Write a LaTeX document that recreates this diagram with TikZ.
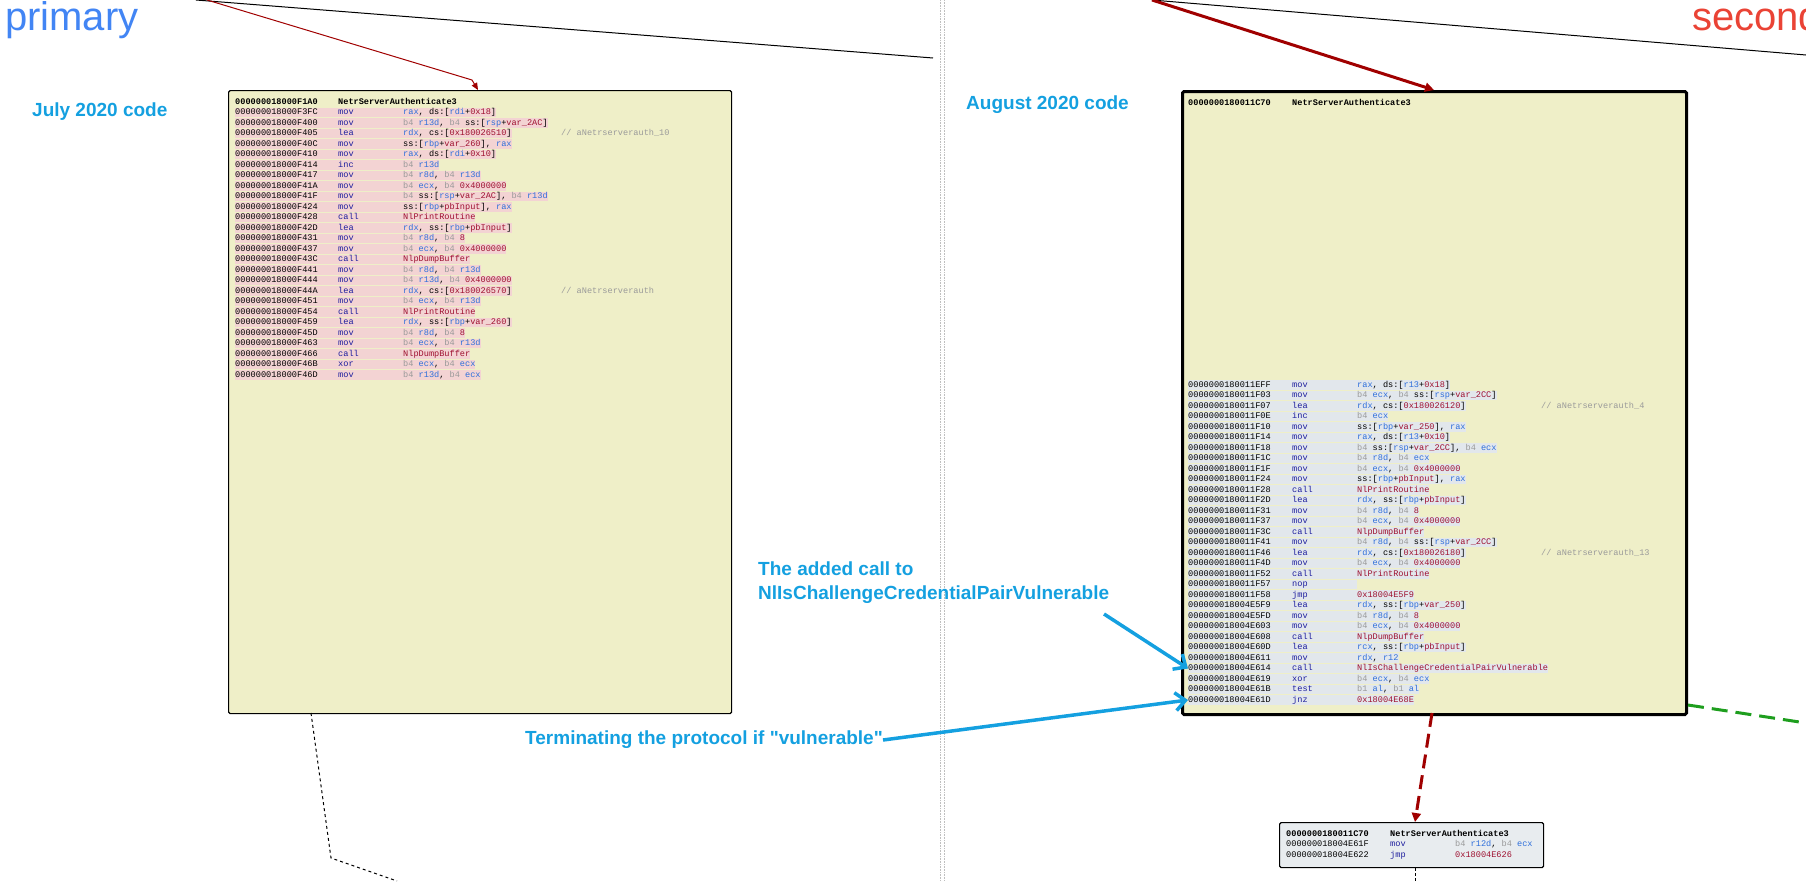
\documentclass[tikz,border=0pt]{standalone}
\usepackage{fontspec}
\setmainfont{Liberation Sans}
\newfontfamily\plainfont{Liberation Sans}
\newfontfamily\codefont{Liberation Mono}
\usetikzlibrary{arrows.meta}
\definecolor{boxyellow}{HTML}{EFEFC8}
\definecolor{hlpink}{HTML}{F3D3D3}
\definecolor{hlgray}{HTML}{E2E7EC}
\definecolor{blockgray}{HTML}{E8ECEF}
\definecolor{mnblue}{HTML}{1E1E9E}
\definecolor{regblue}{HTML}{2F6FDB}
\definecolor{numred}{HTML}{9E1030}
\definecolor{sizegray}{HTML}{9A9A9A}
\definecolor{notecyan}{HTML}{14A0E0}
\definecolor{gblue}{HTML}{4285F4}
\definecolor{gred}{HTML}{EA4335}
\definecolor{darkred}{HTML}{A00000}
\definecolor{edgegreen}{HTML}{1E9E1E}
\newcommand\rg[1]{\textcolor{regblue}{#1}}
\newcommand\nm[1]{\textcolor{numred}{#1}}
\newcommand\sz[1]{\textcolor{sizegray}{#1}}
% one disassembly line: highlight colour, address, mnemonic, operands
\newcommand\codeL[4]{%
  \pgfmathtruncatemacro\lnum{\lnum+1}%
  \node[codeline, fill=#1] (\pre\lnum) at (\xa,\ly)
    {\makebox[\cola][l]{#2}\makebox[\colb][l]{\textcolor{mnblue}{#3}}#4};%
  \pgfmathparse{\ly+10.5}\xdef\ly{\pgfmathresult}}
\newcommand\cmt[1]{\node[codeline, text=sizegray, anchor=west] (\pre c\lnum) at (\xc,\pgfmathresult-10.5) {#1};}
\tikzset{
  codeline/.style={anchor=west, inner sep=0pt, font=\codefont\fontsize{8.6}{10}\selectfont,
    text height=7.3pt, text depth=2.4pt},
  codehead/.style={codeline, font=\codefont\bfseries\fontsize{8.6}{10}\selectfont},
  funcbox/.style={draw=black, fill=boxyellow, anchor=north west, rounded corners=1.5pt, inner sep=0pt},
  note/.style={text=notecyan, font=\plainfont\bfseries\fontsize{19}{24}\selectfont, align=left, inner sep=0pt},
  notearrow/.style={notecyan, line width=3.5pt, -{Straight Barb[length=10pt,width=18pt]}},
  pname/.style={font=\fontsize{40}{42}\selectfont, inner sep=0pt, anchor=base west}
}
\begin{document}
\begin{tikzpicture}[x=1pt,y=-1pt]
\useasboundingbox (0,0) rectangle (1806,881);
% separator between the two panes
\draw[gray!50, densely dotted, line width=0.6pt] (940,0) -- (940,881);
\draw[gray!50, densely dotted, line width=0.6pt] (944,0) -- (944,881);
\node[pname, text=gblue] (primary) at (5,30) {primary};
\node[pname, text=gred] (secondary) at (1692,30) {second};
\node[note, anchor=west] (july) at (32,112) {July 2020 code};
\node[note, anchor=west] (august) at (966,105) {August 2020 code};
% the boxes
\node[funcbox, minimum width=503pt, minimum height=623pt, line width=1.2pt] (oldbox) at (228,90) {};
\node[funcbox, minimum width=504pt, minimum height=623pt, line width=3pt] (newbox) at (1181,90) {};
\node[funcbox, fill=blockgray, minimum width=264pt, minimum height=45pt, line width=1.2pt] (block) at (1279,822) {};
% incoming edges
\coordinate (oldtop) at (196,0);
\coordinate (newtop) at (1152,0);
\coordinate (oldin) at (478,90);
\coordinate (newin) at (1434,90);
\coordinate (crossL) at (933,58);
\coordinate (crossR) at (1806,55);
\draw[black, line width=1pt] (oldtop) -- (crossL);
\draw[black, line width=1pt] (newtop) -- (crossR);
\draw[darkred, line width=1pt, -{Triangle[length=7pt,width=6pt]}] (oldtop) ++(11,0) -- (472,80) -- (oldin);
\draw[darkred, line width=3pt, -{Triangle[length=9pt,width=9pt]}] (newtop) -- (newin);
% outgoing edges
\coordinate (oldout) at (311,713);
\coordinate (oldbend) at (331,858);
\coordinate (oldend) at (397,881);
\draw[black, dashed, line width=1pt] (oldout) -- (oldbend) -- (oldend);
\coordinate (newout) at (1432,713);
\draw[darkred, line width=3pt, dash pattern=on 14pt off 7pt, -{Triangle[length=9pt,width=9pt]}] (newout) -- (block.north -| 1415,0);
\coordinate (greenend) at (1806,723);
\draw[edgegreen, line width=3pt, dash pattern=on 16pt off 8pt] (newbox.north east |- 0,705) -- (greenend);
\coordinate (blockend) at (1415,881);
\draw[black, densely dashed, line width=1pt] (block.south -| 1415,0) -- (blockend);
% July code
\node[codehead] (ohead) at (235,102) {\makebox[103pt][l]{000000018000F1A0}NetrServerAuthenticate3};
\def\pre{o}\def\lnum{0}\def\xa{235}\def\xc{561}\def\cola{103pt}\def\colb{65pt}
\xdef\ly{112.45}
\codeL{hlpink}{000000018000F3FC}{mov}{\rg{rax}, ds:[\rg{rdi}+\nm{0x18}]}
\codeL{hlpink}{000000018000F400}{mov}{\sz{b4} \rg{r13d}, \sz{b4} ss:[\rg{rsp}+\nm{var\_2AC}]}
\codeL{hlpink}{000000018000F405}{lea}{\rg{rdx}, cs:[\nm{0x180026510}]}\cmt{// aNetrserverauth\_10}
\codeL{hlpink}{000000018000F40C}{mov}{ss:[\rg{rbp}+\nm{var\_260}], \rg{rax}}
\codeL{hlpink}{000000018000F410}{mov}{\rg{rax}, ds:[\rg{rdi}+\nm{0x10}]}
\codeL{hlpink}{000000018000F414}{inc}{\sz{b4} \rg{r13d}}
\codeL{hlpink}{000000018000F417}{mov}{\sz{b4} \rg{r8d}, \sz{b4} \rg{r13d}}
\codeL{hlpink}{000000018000F41A}{mov}{\sz{b4} \rg{ecx}, \sz{b4} \nm{0x4000000}}
\codeL{hlpink}{000000018000F41F}{mov}{\sz{b4} ss:[\rg{rsp}+\nm{var\_2AC}], \sz{b4} \rg{r13d}}
\codeL{hlpink}{000000018000F424}{mov}{ss:[\rg{rbp}+\nm{pbInput}], \rg{rax}}
\codeL{hlpink}{000000018000F428}{call}{\nm{NlPrintRoutine}}
\codeL{hlpink}{000000018000F42D}{lea}{\rg{rdx}, ss:[\rg{rbp}+\nm{pbInput}]}
\codeL{hlpink}{000000018000F431}{mov}{\sz{b4} \rg{r8d}, \sz{b4} \nm{8}}
\codeL{hlpink}{000000018000F437}{mov}{\sz{b4} \rg{ecx}, \sz{b4} \nm{0x4000000}}
\codeL{hlpink}{000000018000F43C}{call}{\nm{NlpDumpBuffer}}
\codeL{hlpink}{000000018000F441}{mov}{\sz{b4} \rg{r8d}, \sz{b4} \rg{r13d}}
\codeL{hlpink}{000000018000F444}{mov}{\sz{b4} \rg{r13d}, \sz{b4} \nm{0x4000000}}
\codeL{hlpink}{000000018000F44A}{lea}{\rg{rdx}, cs:[\nm{0x180026570}]}\cmt{// aNetrserverauth}
\codeL{hlpink}{000000018000F451}{mov}{\sz{b4} \rg{ecx}, \sz{b4} \rg{r13d}}
\codeL{hlpink}{000000018000F454}{call}{\nm{NlPrintRoutine}}
\codeL{hlpink}{000000018000F459}{lea}{\rg{rdx}, ss:[\rg{rbp}+\nm{var\_260}]}
\codeL{hlpink}{000000018000F45D}{mov}{\sz{b4} \rg{r8d}, \sz{b4} \nm{8}}
\codeL{hlpink}{000000018000F463}{mov}{\sz{b4} \rg{ecx}, \sz{b4} \rg{r13d}}
\codeL{hlpink}{000000018000F466}{call}{\nm{NlpDumpBuffer}}
\codeL{hlpink}{000000018000F46B}{xor}{\sz{b4} \rg{ecx}, \sz{b4} \rg{ecx}}
\codeL{hlpink}{000000018000F46D}{mov}{\sz{b4} \rg{r13d}, \sz{b4} \rg{ecx}}
% August code
\node[codehead] (nhead) at (1188,103) {\makebox[104pt][l]{0000000180011C70}NetrServerAuthenticate3};
\def\pre{n}\def\lnum{0}\def\xa{1188}\def\xc{1541}\def\cola{104pt}\def\colb{65pt}
\xdef\ly{385}
\codeL{hlgray}{0000000180011EFF}{mov}{\rg{rax}, ds:[\rg{r13}+\nm{0x18}]}
\codeL{hlgray}{0000000180011F03}{mov}{\sz{b4} \rg{ecx}, \sz{b4} ss:[\rg{rsp}+\nm{var\_2CC}]}
\codeL{hlgray}{0000000180011F07}{lea}{\rg{rdx}, cs:[\nm{0x180026120}]}\cmt{// aNetrserverauth\_4}
\codeL{hlgray}{0000000180011F0E}{inc}{\sz{b4} \rg{ecx}}
\codeL{hlgray}{0000000180011F10}{mov}{ss:[\rg{rbp}+\nm{var\_250}], \rg{rax}}
\codeL{hlgray}{0000000180011F14}{mov}{\rg{rax}, ds:[\rg{r13}+\nm{0x10}]}
\codeL{hlgray}{0000000180011F18}{mov}{\sz{b4} ss:[\rg{rsp}+\nm{var\_2CC}], \sz{b4} \rg{ecx}}
\codeL{hlgray}{0000000180011F1C}{mov}{\sz{b4} \rg{r8d}, \sz{b4} \rg{ecx}}
\codeL{hlgray}{0000000180011F1F}{mov}{\sz{b4} \rg{ecx}, \sz{b4} \nm{0x4000000}}
\codeL{hlgray}{0000000180011F24}{mov}{ss:[\rg{rbp}+\nm{pbInput}], \rg{rax}}
\codeL{hlgray}{0000000180011F28}{call}{\nm{NlPrintRoutine}}
\codeL{hlgray}{0000000180011F2D}{lea}{\rg{rdx}, ss:[\rg{rbp}+\nm{pbInput}]}
\codeL{hlgray}{0000000180011F31}{mov}{\sz{b4} \rg{r8d}, \sz{b4} \nm{8}}
\codeL{hlgray}{0000000180011F37}{mov}{\sz{b4} \rg{ecx}, \sz{b4} \nm{0x4000000}}
\codeL{hlgray}{0000000180011F3C}{call}{\nm{NlpDumpBuffer}}
\codeL{hlgray}{0000000180011F41}{mov}{\sz{b4} \rg{r8d}, \sz{b4} ss:[\rg{rsp}+\nm{var\_2CC}]}
\codeL{hlgray}{0000000180011F46}{lea}{\rg{rdx}, cs:[\nm{0x180026180}]}\cmt{// aNetrserverauth\_13}
\codeL{hlgray}{0000000180011F4D}{mov}{\sz{b4} \rg{ecx}, \sz{b4} \nm{0x4000000}}
\codeL{hlgray}{0000000180011F52}{call}{\nm{NlPrintRoutine}}
\codeL{hlgray}{0000000180011F57}{nop}{}
\codeL{hlgray}{0000000180011F58}{jmp}{\nm{0x18004E5F9}}
\codeL{hlgray}{000000018004E5F9}{lea}{\rg{rdx}, ss:[\rg{rbp}+\nm{var\_250}]}
\codeL{hlgray}{000000018004E5FD}{mov}{\sz{b4} \rg{r8d}, \sz{b4} \nm{8}}
\codeL{hlgray}{000000018004E603}{mov}{\sz{b4} \rg{ecx}, \sz{b4} \nm{0x4000000}}
\codeL{hlgray}{000000018004E608}{call}{\nm{NlpDumpBuffer}}
\codeL{hlgray}{000000018004E60D}{lea}{\rg{rcx}, ss:[\rg{rbp}+\nm{pbInput}]}
\codeL{hlgray}{000000018004E611}{mov}{\rg{rdx}, \rg{r12}}
\codeL{hlgray}{000000018004E614}{call}{\nm{NlIsChallengeCredentialPairVulnerable}}
\codeL{hlgray}{000000018004E619}{xor}{\sz{b4} \rg{ecx}, \sz{b4} \rg{ecx}}
\codeL{hlgray}{000000018004E61B}{test}{\sz{b1} \rg{al}, \sz{b1} \rg{al}}
\codeL{hlgray}{000000018004E61D}{jnz}{\nm{0x18004E68E}}
% following block
\node[codehead] (bhead) at (1286,834) {\makebox[104pt][l]{0000000180011C70}NetrServerAuthenticate3};
\def\pre{b}\def\lnum{0}\def\xa{1286}\def\cola{104pt}\def\colb{65pt}
\xdef\ly{844.5}
\codeL{blockgray}{000000018004E61F}{mov}{\sz{b4} \rg{r12d}, \sz{b4} \rg{ecx}}
\codeL{blockgray}{000000018004E622}{jmp}{\nm{0x18004E626}}
% annotations
\node[note, anchor=north west] (addednote) at (758,562) {The added call to\\NlIsChallengeCredentialPairVulnerable};
\node[note, anchor=west] (termnote) at (525,740) {Terminating the protocol if "vulnerable"};
\draw[notearrow] (1104,614) -- (n28.west);
\draw[notearrow] (termnote.east) -- (n31.west);
\end{tikzpicture}
\end{document}
